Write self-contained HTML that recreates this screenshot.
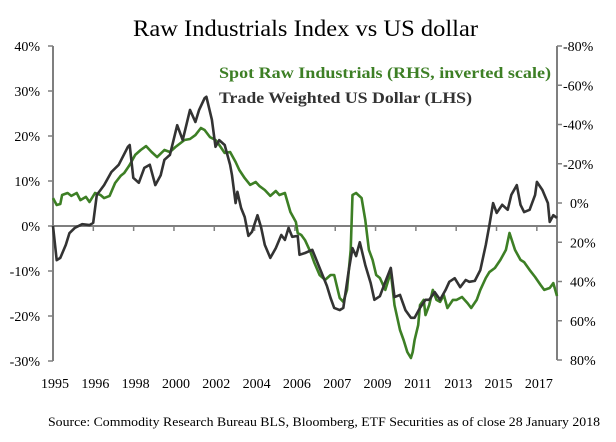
<!DOCTYPE html>
<html><head><meta charset="utf-8"><style>
body{margin:0;background:#fff;}
svg{display:block;font-family:"Liberation Serif",serif;}
</style></head><body>
<svg id="chart" width="616" height="442" viewBox="0 0 616 442" xmlns="http://www.w3.org/2000/svg">
<text x="133" y="36" font-size="23" textLength="345" lengthAdjust="spacingAndGlyphs" fill="#000">Raw Industrials Index vs US dollar</text>
<g id="axes"></g>
<g id="series"></g>
<text x="219" y="78" font-size="16" font-weight="bold" textLength="332" lengthAdjust="spacingAndGlyphs" fill="#3d7f25">Spot Raw Industrials (RHS, inverted scale)</text>
<text x="219" y="103" font-size="16" font-weight="bold" textLength="253" lengthAdjust="spacingAndGlyphs" fill="#333">Trade Weighted US Dollar (LHS)</text>
<text x="48" y="426" font-size="12.5" textLength="552" lengthAdjust="spacingAndGlyphs" fill="#000">Source: Commodity Research Bureau BLS, Bloomberg, ETF Securities as of close 28 January 2018</text>
</svg>
<script>
const xLabels=["1995","1996","1998","2000","2002","2004","2006","2007","2009","2011","2013","2015","2017"];
const leftTicks=[40,30,20,10,0,-10,-20,-30];
const rightTicks=[-80,-60,-40,-20,0,20,40,60,80];
const usdMonths=[0,2,4,7,9,12,16,20,22,24,26,28,32,36,41,42,44,47,50,53,56,59,61,64,68,71,75,78,80,83,84,87,89,91,94,97,98,100,101,103,105,107,109,112,114,116,119,122,125,127,129,131,134,135,138,142,146,150,152,154,157,159,162,164,166,168,171,174,176,179,182,185,187,190,193,196,198,201,204,206,209,212,215,217,220,223,226,228,231,234,237,239,241,243,246,249,251,254,256,258,261,264,265,268,271,272,274,276];
const usdValues=[0,-7.6,-7.1,-4.2,-1.6,-0.4,0.4,0.2,0.7,6.9,8.0,9.1,12.0,13.6,17.6,18.0,10.7,9.6,12.9,13.6,9.1,11.3,14.7,15.8,22.4,19.1,25.8,23.1,25.8,28.4,28.7,23.6,17.6,19.1,18.0,13.6,11.3,5.1,7.6,4.0,2.0,-2.2,-1.3,2.4,-0.4,-4.2,-7.1,-4.9,-2.0,-3.1,-0.4,-2.4,-2.2,-6.4,-6.0,-5.3,-9.3,-13.3,-16.0,-18.2,-18.7,-18.2,-9.8,-4.9,-6.7,-3.6,-8.7,-12.7,-16.4,-15.6,-12.4,-9.3,-15.8,-15.3,-18.7,-20.4,-20.4,-18.2,-16.4,-16.4,-14.7,-16.4,-14.2,-12.4,-11.6,-13.6,-12.0,-12.4,-12.2,-9.8,-4.2,0.2,5.1,2.9,4.7,3.6,6.9,9.1,4.7,3.1,3.6,6.9,9.8,8.0,5.1,0.9,2.4,1.8];
const rawMonths=[0,2,4,5,8,10,13,15,18,20,23,26,28,31,34,37,39,42,45,48,51,54,57,61,64,67,70,72,75,78,81,83,86,89,91,94,97,100,102,105,108,111,113,116,119,122,124,127,130,133,134,136,138,141,143,146,149,152,154,157,159,161,163,164,166,169,171,173,175,177,179,182,185,187,190,192,194,196,197,198,200,201,203,204,206,208,210,212,214,216,219,221,224,227,229,232,234,237,239,242,245,248,250,253,256,258,261,264,267,269,272,274,276];
const rawValues=[-2.5,1.0,0.5,-4.1,-5.1,-3.6,-5.1,-1.5,-3.1,-0.5,-5.1,-4.1,-2.5,-3.6,-10.2,-13.8,-15.3,-19.4,-24.5,-27.0,-29.0,-26.0,-23.4,-27.0,-26.0,-28.5,-30.6,-32.1,-32.6,-34.6,-38.2,-37.2,-33.6,-32.1,-29.6,-25.5,-26.0,-20.9,-16.8,-12.7,-9.2,-10.7,-8.7,-6.6,-3.6,-6.1,-4.1,-5.1,4.6,9.7,15.3,16.3,18.9,25.0,30.1,36.7,39.2,36.7,36.7,48.4,50.4,44.3,23.9,-4.1,-5.1,-2.5,8.7,23.9,29.0,36.7,38.2,44.3,35.2,52.0,64.7,69.8,75.9,79.0,75.9,69.8,62.2,52.0,49.4,57.1,52.0,44.3,49.4,50.4,46.9,53.5,49.4,49.4,47.9,51.0,53.5,49.4,44.3,38.2,35.2,33.1,29.0,23.9,15.3,23.9,29.0,30.1,34.1,37.7,41.8,44.3,43.3,40.8,47.4];

const NS="http://www.w3.org/2000/svg";
const X0=53,X1=557,Y40=46,Ym30=361,YR0=46,YR1=360;
const xScale=m=>X0+m*(X1-X0)/276;
const yLeft=v=>Y40+(40-v)*(Ym30-Y40)/70;
const yRight=v=>YR0+(v+80)*(YR1-YR0)/160;
function mk(tag,attrs,parent){const e=document.createElementNS(NS,tag);for(const k in attrs)e.setAttribute(k,attrs[k]);parent.appendChild(e);return e;}
const axes=document.getElementById('axes'),series=document.getElementById('series');
const ac="#7f7f7f";
let e;
e=mk('line',{x1:X0,y1:Y40,x2:X0,y2:Ym30,stroke:ac,'stroke-width':2},axes);


e=mk('line',{x1:X1,y1:YR0,x2:X1,y2:YR1,stroke:ac,'stroke-width':2},axes);


leftTicks.forEach(v=>{const y=yLeft(v);
 e=mk('line',{x1:X0-5,y1:y,x2:X0,y2:y,stroke:ac,'stroke-width':1.5},axes);
 
 
 e=mk('text',{x:40,y:y+5,'font-size':14,'text-anchor':'end',fill:'#000'},axes);
 e.textContent=v+'%';
 
 
});
rightTicks.forEach(v=>{const y=yRight(v);
 e=mk('line',{x1:X1,y1:y,x2:X1+5,y2:y,stroke:ac,'stroke-width':1.5},axes);
 
 
 e=mk('text',{x:v<0?563:570,y:y+5,'font-size':14,fill:'#000'},axes);
 e.textContent=v+'%';
 
 
});
const y0=yLeft(0);
e=mk('line',{x1:X0,y1:y0,x2:X1,y2:y0,stroke:ac,'stroke-width':2},axes);


const step=(X1-X0)/12.5;
xLabels.forEach((l,i)=>{const x=X0+i*step;
 e=mk('line',{x1:x,y1:y0,x2:x,y2:y0+5,stroke:ac,'stroke-width':1.5},axes);
 
 
 e=mk('text',{x:x+2,y:388,'font-size':14,'text-anchor':'middle',fill:'#000'},axes);
 e.textContent=l;
 
 
});
function pathD(ms,vs,ys){return ms.map((m,i)=>(i?'L':'M')+xScale(m).toFixed(1)+','+ys(vs[i]).toFixed(1)).join('');}
e=mk('path',{d:pathD(rawMonths,rawValues,yRight),fill:'none',stroke:'#3d7f25','stroke-width':2.6,'stroke-linejoin':'round'},series);


e=mk('path',{d:pathD(usdMonths,usdValues,yLeft),fill:'none',stroke:'#333','stroke-width':2.6,'stroke-linejoin':'round'},series);


</script>
</body></html>
